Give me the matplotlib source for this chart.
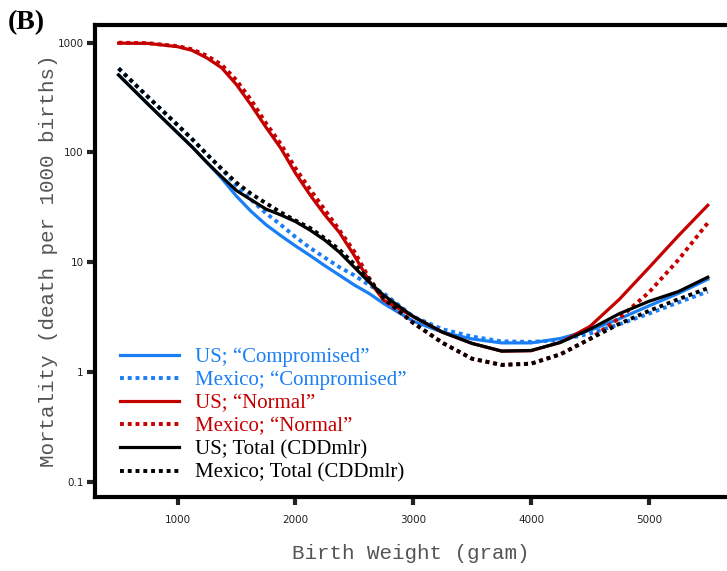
"""Mortality by birth weight, US vs Mexico, panel (B)."""
import matplotlib
matplotlib.use("Agg")
import matplotlib.pyplot as plt
from matplotlib.ticker import FixedLocator, FixedFormatter, NullLocator

# birth weight grid (gram)
weights = [500, 750, 1000, 1125, 1250, 1375, 1500, 1625, 1750, 1875, 2000,
           2125, 2250, 2375, 2500, 2625, 2750, 3000, 3250, 3500, 3750, 4000,
           4250, 4500, 4750, 5000, 5250, 5500]

# mortality, deaths per 1000 births
us_comp = [508, 275, 151, 112, 81, 58, 40, 29, 22, 17.5, 14.1,
           11.5, 9.3, 7.6, 6.2, 5.2, 4.2, 2.9, 2.3, 2.0, 1.84, 1.84,
           2.02, 2.4, 3.05, 4.0, 5.2, 7.0]
mx_comp = [583, 320, 178, 132, 96, 70, 50, 37, 28, 22, 17,
           13.5, 11, 9.0, 7.6, 6.2, 5.2, 3.2, 2.45, 2.1, 1.9, 1.88,
           1.95, 2.24, 2.72, 3.4, 4.3, 5.4]
us_norm = [990, 985, 920, 850, 725, 590, 415, 270, 170, 110, 65,
           41, 27, 18.6, 11.5, 6.8, 4.5, 3.2, 2.3, 1.82, 1.55, 1.56,
           1.86, 2.6, 4.6, 8.9, 17.4, 33]
mx_norm = [1000, 990, 930, 870, 760, 630, 455, 300, 185, 120, 72,
           46, 30, 19.5, 12.5, 7.2, 4.6, 2.8, 1.84, 1.32, 1.16, 1.19,
           1.45, 2.0, 3.1, 5.3, 10.5, 22.8]
us_total = [508, 275, 151, 112, 81, 60, 45, 37, 30.5, 27, 23.5,
            19.6, 15.9, 12.3, 9.0, 6.6, 5.0, 3.2, 2.3, 1.82, 1.55, 1.57,
            1.86, 2.45, 3.4, 4.4, 5.4, 7.3]
mx_total = [583, 320, 178, 132, 96, 71, 53, 42, 34.5, 28.5, 24,
            20.5, 16.5, 13, 9.6, 7.0, 4.7, 2.8, 1.84, 1.32, 1.16, 1.19,
            1.45, 2.0, 2.75, 3.6, 4.6, 5.8]

labels = ["US; \u201cCompromised\u201d", "Mexico; \u201cCompromised\u201d",
          "US; \u201cNormal\u201d", "Mexico; \u201cNormal\u201d",
          "US; Total (CDDmlr)", "Mexico; Total (CDDmlr)"]

x_ticks = [1000, 2000, 3000, 4000, 5000]
y_ticks = [0.1, 1, 10, 100, 1000]
y_tick_labels = ["0.1", "1", "10", "100", "1000"]

C_BLUE = "#1a7ff5"
C_RED = "#c40000"
C_BLACK = "#000000"

series = [
    (us_comp, C_BLUE, "solid"),
    (mx_comp, C_BLUE, "dotted"),
    (us_norm, C_RED, "solid"),
    (mx_norm, C_RED, "dotted"),
    (us_total, C_BLACK, "solid"),
    (mx_total, C_BLACK, "dotted"),
]

fig = plt.figure(figsize=(7.27, 5.71), dpi=100)
ax = fig.add_axes([0.1307, 0.1296, 0.8693, 0.8266])

for (vals, color, style), lab in zip(series, labels):
    if style == "solid":
        ax.plot(weights, vals, color=color, lw=2.3, ls="-", label=lab,
                solid_joinstyle="round")
    else:
        ax.plot(weights, vals, color=color, lw=2.8, ls=(0, (1, 1)), label=lab)

ax.set_yscale("log")
ax.set_xlim(300, 5663)
ax.set_ylim(0.0726, 1449)

ax.xaxis.set_major_locator(FixedLocator(x_ticks))
ax.yaxis.set_major_locator(FixedLocator(y_ticks))
ax.yaxis.set_major_formatter(FixedFormatter(y_tick_labels))
ax.yaxis.set_minor_locator(NullLocator())
ax.tick_params(axis="both", which="major", direction="out", length=6,
               width=3, labelsize=7.5, colors="#222")
ax.tick_params(axis="x", pad=7)
ax.tick_params(axis="y", pad=2)

for side in ("left", "bottom", "top"):
    ax.spines[side].set_linewidth(3)
ax.spines["right"].set_visible(False)

ax.set_xlabel("Birth Weight (gram)", family="Liberation Mono", fontsize=15,
              color="#555", labelpad=14)
ax.set_ylabel("Mortality (death per 1000 births)", family="Liberation Mono",
              fontsize=15, color="#555", labelpad=0)

ax.legend(loc="lower left", bbox_to_anchor=(0.04, 0.03), frameon=False,
          prop={"family": "Liberation Serif", "size": 15},
          handlelength=2.8, handletextpad=0.77, labelspacing=0.17,
          borderpad=0, borderaxespad=0,
          labelcolor=[C_BLUE, C_BLUE, C_RED, C_RED, C_BLACK, C_BLACK])

fig.text(0.011, 0.982, "(B)", family="Liberation Serif", fontweight="bold",
         fontsize=20, ha="left", va="top")

fig.savefig("out.png", dpi=100)
